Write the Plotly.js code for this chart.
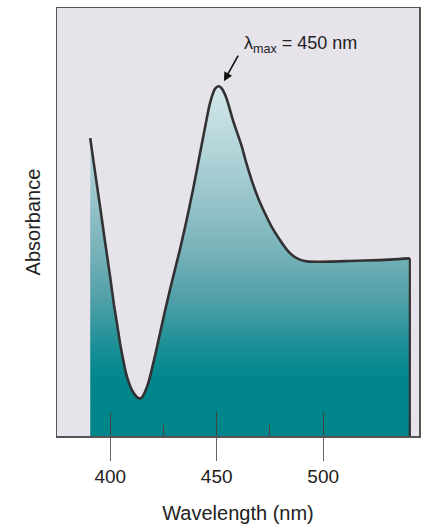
<!DOCTYPE html>
<html>
<head>
<meta charset="utf-8">
<script src="https://cdn.plot.ly/plotly-3.0.1.min.js"></script>
<style>
  html, body { margin: 0; padding: 0; background: #ffffff; }
  #chart { width: 423px; height: 524px; }
</style>
</head>
<body>
<div id="chart"></div>
<script>
// Wavelength (nm) and absorbance (arbitrary units)
const wavelength = [390.6, 392.8, 395.2, 397.5, 399.9, 401.7, 403.2, 404.6, 406.0, 407.4,
  408.8, 410.2, 411.6, 413.0, 413.9, 414.9, 416.3, 417.7, 419.1, 421.0,
  423.3, 425.7, 428.7, 432.7, 435.9, 439.0, 442.1, 444.5, 446.3, 447.8,
  449.2, 450.8, 452.2, 453.6, 455.0, 457.6, 461.7, 463.9, 466.4, 469.3,
  472.6, 475.9, 479.7, 483.0, 485.8, 489.1, 492.2, 497.0, 512.5, 526.6, 540.7];
const absorbance = [0.696, 0.619, 0.537, 0.456, 0.374, 0.308, 0.262, 0.217, 0.180, 0.147,
  0.124, 0.107, 0.096, 0.089, 0.088, 0.090, 0.103, 0.121, 0.147, 0.187,
  0.238, 0.292, 0.355, 0.435, 0.505, 0.579, 0.659, 0.720, 0.766, 0.794,
  0.811, 0.817, 0.813, 0.801, 0.783, 0.738, 0.678, 0.638, 0.598, 0.558,
  0.521, 0.488, 0.458, 0.435, 0.421, 0.412, 0.408, 0.407, 0.409, 0.411, 0.415];

const majorTicks = [400, 450, 500];
const majorTickLabels = ['400', '450', '500'];
const minorTicks = [425, 475];

const peakLabel = 'λ<sub>max</sub> = 450 nm';

const lastX = wavelength[wavelength.length - 1];
const lastY = absorbance[absorbance.length - 1];
const peakY = Math.max.apply(null, absorbance);

const lineColor = '#323232';
const fontFamily = '"Liberation Sans", Arial, Helvetica, sans-serif';

const traces = [
  {
    x: wavelength, y: absorbance,
    type: 'scatter', mode: 'lines',
    line: { color: lineColor, width: 2.6, shape: 'spline', smoothing: 0.5 },
    fill: 'tozeroy',
    fillgradient: {
      type: 'vertical',
      start: 0, stop: peakY,
      colorscale: [
        [0.0, 'rgb(0,133,139)'],
        [0.16, 'rgb(0,134,140)'],
        [0.25, 'rgb(25,142,150)'],
        [0.39, 'rgb(80,160,168)'],
        [0.53, 'rgb(120,178,185)'],
        [0.82, 'rgb(180,213,218)'],
        [1.0, 'rgb(212,231,234)']
      ]
    },
    hoverinfo: 'skip'
  },
  {
    x: [lastX, lastX], y: [lastY, 0],
    type: 'scatter', mode: 'lines',
    line: { color: lineColor, width: 2.2 },
    hoverinfo: 'skip'
  },
  { x: [], y: [], xaxis: 'x2', yaxis: 'y', type: 'scatter', mode: 'lines' }
];

const layout = {
  width: 423, height: 524,
  margin: { l: 57, r: 4, t: 8, b: 88 },
  paper_bgcolor: '#ffffff',
  plot_bgcolor: '#e6e3eb',
  showlegend: false,
  font: { family: fontFamily, color: '#222222' },
  xaxis: {
    range: [375, 545],
    showline: true, linecolor: '#555555', linewidth: 1.5, mirror: true,
    ticks: 'outside', ticklen: 23, tickwidth: 1, tickcolor: '#666666',
    tickmode: 'array', tickvals: majorTicks, ticktext: majorTickLabels,
    tickfont: { size: 19, family: fontFamily, color: '#222222' },
    showgrid: false, zeroline: false,
    title: { text: 'Wavelength (nm)', font: { size: 20, family: fontFamily, color: '#222222' }, standoff: 19 }
  },
  xaxis2: {
    overlaying: 'x', anchor: 'y', side: 'bottom',
    range: [375, 545],
    ticks: 'inside', ticklen: 24, tickwidth: 1, tickcolor: '#444444',
    tickmode: 'array', tickvals: majorTicks,
    showticklabels: false, showline: false, showgrid: false, zeroline: false,
    minor: { tickmode: 'array', tickvals: minorTicks, ticks: 'inside', ticklen: 11, tickwidth: 1, tickcolor: '#444444', showgrid: false }
  },
  yaxis: {
    range: [0, 1],
    showline: true, linecolor: '#555555', linewidth: 1.5, mirror: true,
    ticks: '', showticklabels: false, showgrid: false, zeroline: false,
    title: { text: 'Absorbance', font: { size: 20, family: fontFamily, color: '#222222' }, standoff: 9 }
  },
  annotations: [
    {
      x: 453.4, y: 0.829, xref: 'x', yref: 'y',
      text: '', showarrow: true,
      ax: 15, ay: -27,
      arrowhead: 2, arrowsize: 1.1, arrowwidth: 1.6, arrowcolor: '#111111'
    },
    {
      x: 461.7, y: 0.915, xref: 'x', yref: 'y',
      xanchor: 'left', yanchor: 'middle',
      text: peakLabel, showarrow: false,
      font: { size: 18, family: fontFamily, color: '#222222' }
    }
  ]
};

Plotly.newPlot('chart', traces, layout, { displayModeBar: false, staticPlot: true });
</script>
</body>
</html>
